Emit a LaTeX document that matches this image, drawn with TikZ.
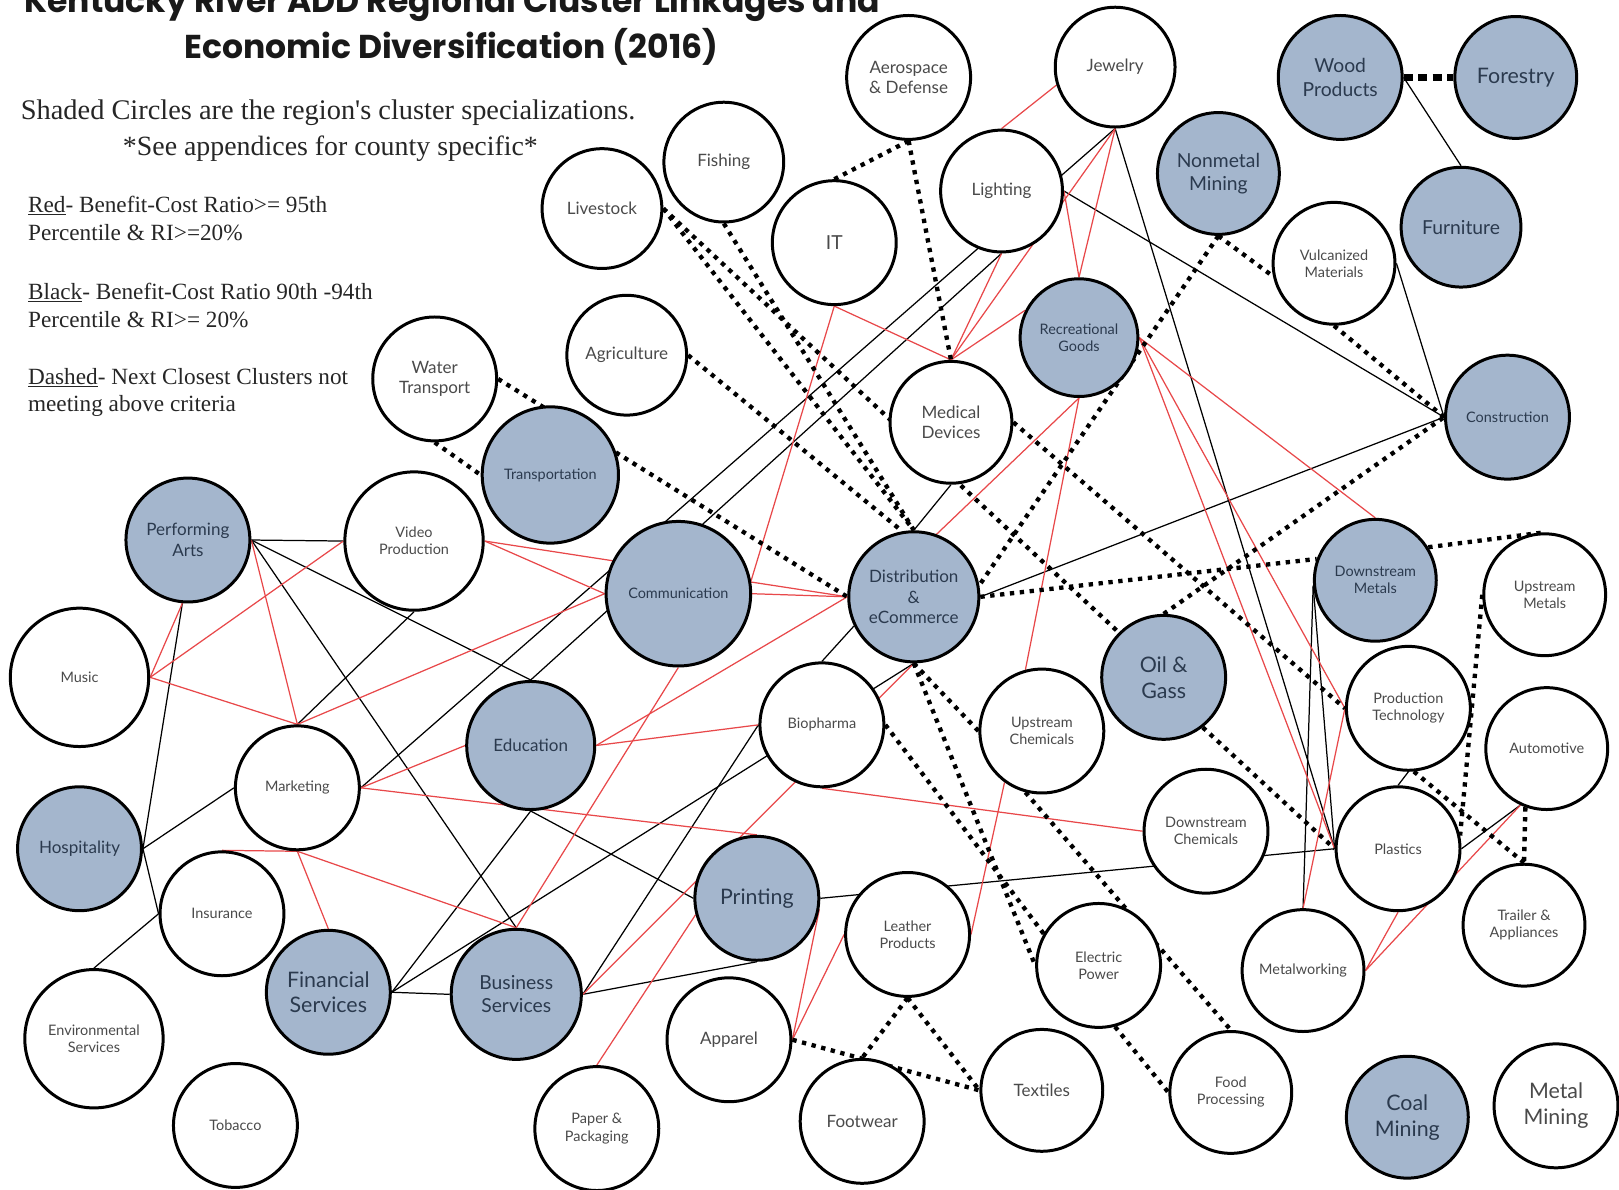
\documentclass[tikz,border=0pt]{standalone}
\usepackage{fontspec}
\setmainfont{Liberation Serif}
\newfontfamily\lato{Lato}
\newfontfamily\popp{Poppins}
\usepackage{xcolor}
\definecolor{specblue}{HTML}{A4B6CD}
\definecolor{linkred}{HTML}{E8484A}
\definecolor{txtgray}{HTML}{4A4A4A}
\definecolor{txtnavy}{HTML}{2B3A4E}
\pgfdeclarelayer{links}
\pgfsetlayers{links,main}
\tikzset{
  clus/.style={circle,draw=black,line width=2.9pt,fill=white,inner sep=0pt,align=center,text=txtgray},
  spec/.style={clus,fill=specblue,text=txtnavy},
  fs/.style={font=\lato\fontsize{14}{16.5}\selectfont},
  fm/.style={font=\lato\fontsize{16.5}{20}\selectfont},
  fl/.style={font=\lato\fontsize{18.7}{22.5}\selectfont},
  fx/.style={font=\lato\fontsize{20.7}{25}\selectfont},
  redl/.style={draw=linkred,line width=1.2pt},
  blkl/.style={draw=black,line width=1.2pt},
  dotl/.style={draw=black,line width=4.2pt,dash pattern=on 4.2pt off 5.4pt},
  legtext/.style={anchor=base west,inner sep=0pt,font=\fontsize{22.5}{27}\selectfont,text=black!85},
}

\begin{document}
\begin{tikzpicture}[x=1pt,y=-1pt]
  \useasboundingbox (0,0) rectangle (1568,1152);
  % title and legend
  \node[anchor=base,inner sep=0pt,font=\popp\bfseries\fontsize{32}{38}\selectfont,text=black!90] (ttl1) at (438,12) {Kentucky River ADD Regional Cluster Linkages and};
  \node[anchor=base,inner sep=0pt,font=\popp\bfseries\fontsize{32}{38}\selectfont,text=black!90] (ttl2) at (437,57) {Economic Diversification (2016)};
  \node[legtext,font=\fontsize{27.5}{32}\selectfont] (shade) at (20,116) {Shaded Circles are the region\textquotesingle s cluster specializations.};
  \node[legtext,anchor=base,font=\fontsize{27}{32}\selectfont] (appx) at (320,151) {*See appendices for county specific*};
  \node[legtext] (red1) at (27,206) {\underline{Red}- Benefit-Cost Ratio>= 95th};
  \node[legtext] (red2) at (27,233) {Percentile \& RI>=20\%};
  \node[legtext] (blk1) at (27,290) {\underline{Black}- Benefit-Cost Ratio 90th -94th};
  \node[legtext] (blk2) at (27,317) {Percentile \& RI>= 20\%};
  \node[legtext] (dsh1) at (27,372) {\underline{Dashed}- Next Closest Clusters not};
  \node[legtext] (dsh2) at (27,399) {meeting above criteria};

  % clusters
  \node[clus,fm,minimum size=120] (aer) at (880,75) {Aerospace\\\& Defense};
  \node[clus,fm,minimum size=116] (jew) at (1080,65) {Jewelry};
  \node[spec,fl,minimum size=120] (wood) at (1298,75) {Wood\\Products};
  \node[spec,fx,minimum size=118] (forest) at (1468,75) {Forestry};
  \node[clus,fm,minimum size=116] (fish) at (701,157) {Fishing};
  \node[clus,fm,minimum size=116] (live) at (583,202) {Livestock};
  \node[clus,fl,minimum size=120] (it) at (808,235) {IT};
  \node[clus,fm,minimum size=118] (lig) at (970,185) {Lighting};
  \node[spec,fl,minimum size=118] (nm) at (1180,168) {Nonmetal\\Mining};
  \node[spec,fl,minimum size=116] (fur) at (1415,220) {Furniture};
  \node[clus,fs,minimum size=118] (vul) at (1292,255) {Vulcanized\\Materials};
  \node[clus,fm,minimum size=116] (agr) at (607,344) {Agriculture};
  \node[spec,fs,minimum size=114] (rg) at (1045,327) {Recreational\\Goods};
  \node[clus,fm,minimum size=120] (wt) at (421,367) {Water\\Transport};
  \node[spec,fs,minimum size=120] (con) at (1460,404) {Construction};
  \node[clus,fm,minimum size=118] (med) at (921,409) {Medical\\Devices};
  \node[spec,fs,minimum size=132] (trn) at (533,460) {Transportation};
  \node[spec,fm,minimum size=120] (pa) at (182,523) {Performing\\Arts};
  \node[clus,fs,minimum size=134] (vp) at (401,524) {Video\\Production};
  \node[spec,fs,minimum size=140] (comm) at (657,575) {Communication};
  \node[spec,fm,minimum size=126] (dist) at (885,578) {Distribution\\\&\\eCommerce};
  \node[spec,fs,minimum size=118] (dm) at (1332,562) {Downstream\\Metals};
  \node[clus,fs,minimum size=118] (um) at (1496,576) {Upstream\\Metals};
  \node[clus,fs,minimum size=134] (music) at (77,656) {Music};
  \node[spec,fx,minimum size=120] (og) at (1127,656) {Oil \&\\Gass};
  \node[clus,fs,minimum size=120] (pt) at (1364,686) {Production\\Technology};
  \node[clus,fs,minimum size=120] (uc) at (1009,708) {Upstream\\Chemicals};
  \node[clus,fs,minimum size=120] (bio) at (796,702) {Biopharma};
  \node[spec,fm,minimum size=124] (edu) at (514,722) {Education};
  \node[clus,fs,minimum size=118] (aut) at (1498,725) {Automotive};
  \node[clus,fs,minimum size=120] (mkt) at (288,763) {Marketing};
  \node[clus,fs,minimum size=120] (dc) at (1168,805) {Downstream\\Chemicals};
  \node[spec,fm,minimum size=120] (hosp) at (77,822) {Hospitality};
  \node[clus,fs,minimum size=120] (pla) at (1354,822) {Plastics};
  \node[spec,fx,minimum size=120] (prt) at (733,870) {Printing};
  \node[clus,fs,minimum size=120] (ins) at (215,885) {Insurance};
  \node[clus,fs,minimum size=120] (lea) at (879,905) {Leather\\Products};
  \node[clus,fs,minimum size=118] (tra) at (1476,896) {Trailer \&\\Appliances};
  \node[spec,fx,minimum size=120] (fin) at (318,961) {Financial\\Services};
  \node[spec,fl,minimum size=126] (bs) at (500,963) {Business\\Services};
  \node[clus,fs,minimum size=120] (ep) at (1064,935) {Electric\\Power};
  \node[clus,fs,minimum size=118] (mw) at (1262,940) {Metalworking};
  \node[clus,fs,minimum size=134] (env) at (91,1006) {Environmental\\Services};
  \node[clus,fm,minimum size=120] (app) at (706,1007) {Apparel};
  \node[clus,fm,minimum size=118] (tex) at (1009,1056) {Textiles};
  \node[clus,fs,minimum size=118] (food) at (1192,1058) {Food\\Processing};
  \node[clus,fm,minimum size=120] (fw) at (835,1086) {Footwear};
  \node[spec,fx,minimum size=118] (coal) at (1363,1082) {Coal\\Mining};
  \node[clus,fx,minimum size=120] (mm) at (1507,1071) {Metal\\Mining};
  \node[clus,fs,minimum size=120] (tob) at (228,1090) {Tobacco};
  \node[clus,fs,minimum size=120] (pp) at (578,1093) {Paper \&\\Packaging};

  % linkages, behind the circles
  \begin{pgfonlayer}{links}
    \foreach \a/\b in {wood.east/fur.north,jew.south/mkt.east,jew.south/pla.west,lig.east/con.west,
      lig.south/edu.north,vul.east/con.west,dist.east/con.west,pa.east/vp.west,pa.east/edu.north,
      pa.east/bs.north,pa.265/hosp.east,hosp.east/ins.west,hosp.east/mkt.west,ins.west/env.north,
      vp.south/mkt.north,edu.south/fin.east,edu.south/prt.west,fin.east/bs.west,fin.east/dist.south,
      bs.east/bio.west,bs.east/prt.south,bio.north/dist.206,med.south/dist.north,prt.east/pla.west,
      dm.185/pla.west,dm.185/mw.north,pt.south/pla.north,pla.east/aut.245}
      \draw[blkl] (\a) -- (\b);
    \foreach \a/\b in {jew.197/lig.north,jew.south/med.north,jew.south/rg.north,lig.east/rg.north,
      lig.south/med.north,it.south/med.north,it.south/comm.10,rg.153/med.north,rg.south/dist.70,
      rg.south/uc.105,rg.east/dm.north,rg.east/pt.west,rg.east/pla.west,pt.west/mw.north,
      mw.east/aut.245,mw.east/pla.south,uc.234/lea.east,bio.south/dc.west,music.east/pa.265,
      music.east/vp.west,music.east/mkt.north,pa.east/mkt.north,mkt.north/comm.west,vp.east/comm.west,
      vp.east/dist.west,comm.east/dist.west,edu.east/dist.west,edu.east/bio.west,mkt.east/edu.west,
      mkt.east/prt.north,mkt.south/ins.north,mkt.south/fin.north,mkt.south/bs.north,comm.south/bs.north,
      bs.east/dist.south,pp.north/prt.195,prt.350/app.east,lea.west/app.east}
      \draw[redl] (\a) -- (\b);
    \foreach \a/\b in {aer.south/it.north,aer.south/med.north,nm.south/vul.192,nm.south/dist.10,
      vul.south/con.west,og.north/con.west,wt.east/dist.west,wt.south/trn.west,agr.east/dist.100,
      live.east/dist.north,fish.south/dist.north,live.east/og.135,med.east/pt.west,dist.east/dm.160,
      dm.32/um.north,um.west/pla.12,pt.275/tra.north,aut.250/tra.north,og.308/pla.west,
      dist.south/uc.west,dist.south/ep.west,bio.east/ep.150,ep.285/food.west,uc.255/food.north,
      app.east/tex.west,lea.south/fw.north,lea.south/tex.west}
      \draw[dotl] (\a) -- (\b);
    \draw[draw=black,line width=7pt,dash pattern=on 9pt off 5pt] (wood.east) -- (forest.west);
  \end{pgfonlayer}
\end{tikzpicture}
\end{document}
